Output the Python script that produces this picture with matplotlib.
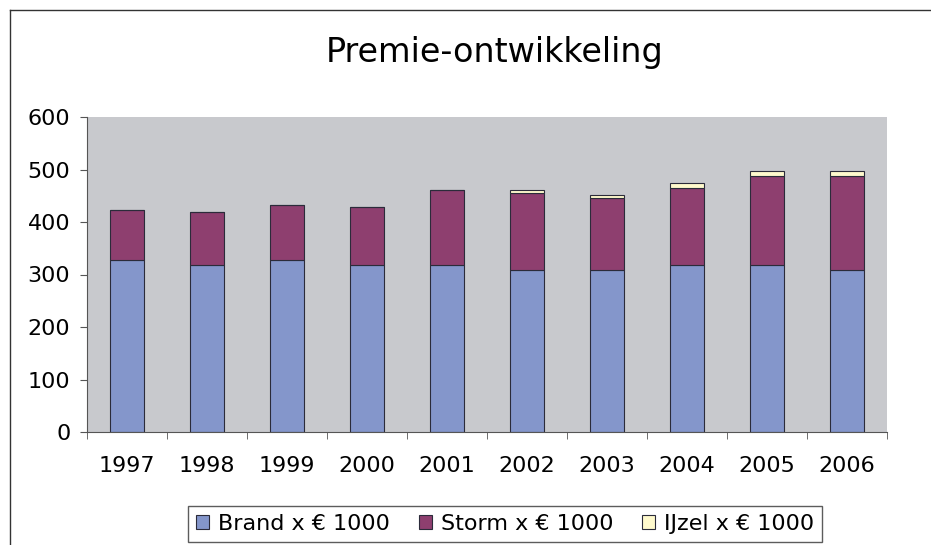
import numpy as np
import matplotlib.pyplot as plt
from matplotlib.lines import Line2D

# Data (x € 1000)
jaren = ["1997", "1998", "1999", "2000", "2001", "2002", "2003", "2004", "2005", "2006"]
brand = [328, 319, 328, 319, 319, 309, 309, 318, 318, 309]
storm = [95, 100, 104, 110, 142, 146, 137, 147, 170, 179]
ijzel = [0, 0, 0, 0, 0, 6, 5, 9, 9, 9]

plt.rcParams['font.family'] = ['DejaVu Sans']

fig = plt.figure(figsize=(9.31, 5.45), dpi=100)
ax = fig.add_axes([87/931, 113/545, 800/931, 315/545])
ax.set_facecolor('#C8C9CD')

x = np.arange(len(jaren))
w = 0.42
b1 = ax.bar(x, brand, w, color='#8496CB', edgecolor='#2b2b3a', linewidth=0.8, label='Brand x € 1000')
b2 = ax.bar(x, storm, w, bottom=brand, color='#8E3F6F', edgecolor='#2b2b3a', linewidth=0.8,
            label='Storm x € 1000')
bottom3 = np.array(brand) + np.array(storm)
b3 = ax.bar(x, ijzel, w, bottom=bottom3, color='#FFFACD', edgecolor='#2b2b3a', linewidth=0.8,
            label='IJzel x € 1000')

ax.set_xlim(-0.5, len(jaren) - 0.5)
ax.set_ylim(0, 600)
ax.set_yticks(range(0, 601, 100))
ax.set_xticks(x)
ax.set_xticklabels(jaren, fontsize=16)
ax.set_xticks(np.arange(-0.5, len(jaren)), minor=True)
ax.tick_params(axis='x', which='major', length=0, pad=17)
ax.tick_params(axis='x', which='minor', length=5, color='#555555')
ax.tick_params(axis='y', labelsize=16, length=5, color='#555555', pad=7)
for s in ['top', 'right']:
    ax.spines[s].set_visible(False)
ax.spines['left'].set_color('#555555')
ax.spines['bottom'].set_color('#555555')

fig.text(0.531, 0.903, "Premie-ontwikkeling", ha='center', va='center', fontsize=24)

# Kader rond de grafiek
fig.add_artist(Line2D([10/931, 10/931], [0, 1 - 10/545], color='#333333', lw=1))
fig.add_artist(Line2D([10/931, 1], [1 - 10/545, 1 - 10/545], color='#333333', lw=1))

leg = fig.legend(handles=[b1, b2, b3], loc='center', bbox_to_anchor=(505/931, 21/545), ncol=3,
                 fontsize=16, frameon=True, fancybox=False, edgecolor='#333333',
                 handlelength=0.6, handleheight=0.6, handletextpad=0.4, columnspacing=1.3,
                 borderpad=0.35)
leg.get_frame().set_linewidth(1)

fig.savefig("out.png", dpi=100)
